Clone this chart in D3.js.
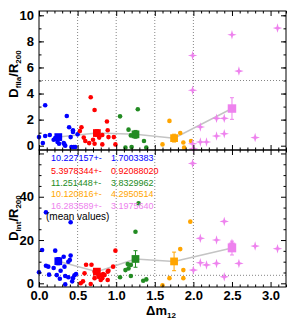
<!DOCTYPE html>
<meta charset="utf-8">
<style>
body { margin: 0; background: #fff; }
svg text { font-family: "Liberation Sans", Arial, sans-serif; }
.grid { stroke: #666; stroke-width: 0.8; stroke-dasharray: 1,2; fill: none; }
.mean-line { stroke: #c4c4c4; stroke-width: 1.5; fill: none; }
.frame { fill: none; stroke: #000; stroke-width: 1; }
</style>
<body>
<script src="https://cdn.jsdelivr.net/npm/d3@7"></script>
<script>

// groups by delta m12 bin
var colors = ["#0000ff", "#ff0000", "#228b22", "#ffa500", "#ee82ee"];

// top panel: D_fila / R200
var blueTop = [[0.00,0.66],[0.05,0.20],[0.08,3.10],[0.08,0.74],[0.14,0.82],[0.19,0.46],[0.21,0.58],[0.24,0.28],[0.26,0.15],[0.32,0.20],[0.33,0.10],[0.34,0.00],[0.36,2.28],[0.39,1.41],[0.41,0.66],[0.44,1.18],[0.44,1.05],[0.42,-0.10],[0.45,-0.10],[0.47,-0.10],[0.50,0.87]];
var redTop = [[0.53,1.12],[0.55,1.41],[0.58,0.62],[0.60,0.36],[0.65,0.20],[0.67,3.72],[0.70,0.46],[0.72,2.74],[0.72,0.15],[0.78,0.62],[0.82,0.10],[0.82,0.82],[0.88,1.85],[0.89,1.18],[0.90,0.66],[0.97,0.66],[0.99,0.10]];
var greenTop = [[1.05,2.25],[1.28,2.79],[1.16,1.23],[1.19,0.79],[1.36,0.36],[1.12,-0.15],[1.20,-0.10],[1.39,-0.15]];
var orangeTop = [[1.69,1.90],[1.60,0.10],[1.83,0.97],[1.87,0.25],[1.88,-0.15],[1.97,0.36]];
var violetTop = [[3.09,9.02],[2.50,8.51],[1.99,6.92],[2.59,5.72],[1.99,4.25],[2.30,2.10],[2.40,2.10],[2.09,1.43],[2.40,0.92],[2.30,0.74],[2.80,0.62],[2.09,0.28],[2.17,0.28],[1.99,0.15],[2.00,-0.23]];

// bottom panel: D_Int / R200
var blueBot = [[0.09,32.8],[0.41,28.2],[0.04,15.4],[0.09,8.1],[0.00,5.1],[0.13,4.0],[0.21,15.1],[0.19,7.1],[0.23,3.8],[0.32,12.3],[0.33,7.7],[0.34,3.4],[0.27,2.1],[0.40,10.8],[0.41,12.8],[0.38,10.0],[0.38,2.8],[0.34,-0.5],[0.44,2.4],[0.46,3.7],[0.48,4.3],[0.28,5.8],[0.12,7.7],[0.43,0.9]];
var redBot = [[0.99,15.1],[0.96,7.7],[0.90,5.8],[0.79,3.7],[0.61,8.6],[0.68,8.6],[0.54,0.0],[0.57,0.9],[0.67,-0.3],[0.72,2.4],[0.82,2.4],[0.83,4.3],[0.59,4.6],[0.72,5.4],[0.89,5.4],[0.85,3.8],[0.89,1.5],[0.80,1.5],[0.77,3.0]];
var greenBot = [[1.29,37.0],[1.25,23.8],[1.19,8.5],[1.16,6.9],[1.12,6.1],[1.15,8.9],[1.05,2.8],[1.19,3.4],[1.35,1.2],[1.39,1.8]];
var orangeBot = [[1.96,28.5],[1.83,15.8],[1.87,6.1],[1.69,2.4],[1.87,2.4],[1.60,-0.9]];
var violetBot = [[1.99,55.4],[2.40,28.6],[2.09,20.8],[2.30,20.0],[2.50,18.5],[2.80,17.2],[3.09,16.0],[2.09,9.5],[2.17,8.5],[2.30,9.2],[2.59,9.2],[2.00,6.1],[2.40,3.0]];

// mean values per bin
var meanX = [0.25, 0.75, 1.25, 1.75, 2.5];
var meanTop = [0.66, 0.97, 0.87, 0.58, 2.85];
var errTop = [0.2, 0.25, 0.3, 0.3, 0.83];
var meanBot = [10.227157, 5.3978344, 11.251448, 10.120816, 16.283589];
var errBot = [1.7003383, 0.92088020, 3.8329962, 4.2950514, 3.1975640];

var legendVals = ["10.227157+-", "5.3978344+-", "11.251448+-", "10.120816+-", "16.283589+-"];
var legendErrs = ["1.7003383", "0.92088020", "3.8329962", "4.2950514", "3.1975640"];

var xTicks = [0, 0.5, 1.0, 1.5, 2.0, 2.5, 3.0];
var topTicks = [0, 2, 4, 6, 8, 10];
var botTicks = [0, 20, 40];

var width = 299, height = 322;
var L = 39, R = 286, T1 = 11, B1 = 150, T2 = 150, B2 = 287;

var svg = d3.select("body").append("svg")
    .attr("width", width)
    .attr("height", height);

var x = d3.scaleLinear().domain([0, 3.2]).range([L, R]);
var yTop = d3.scaleLinear().domain([-0.33, 10.33]).range([B1, T1]);
var yBot = d3.scaleLinear().domain([-1.7, 61.6]).range([B2, T2]);

var star4 = {
  draw: function(ctx, size) {
    var ro = Math.sqrt(size) / 2, ri = ro * 0.32;
    for (var i = 0; i < 8; i++) {
      var a = i * Math.PI / 4 - Math.PI / 2, r = i % 2 ? ri : ro;
      if (i == 0) ctx.moveTo(r * Math.cos(a), r * Math.sin(a));
      else ctx.lineTo(r * Math.cos(a), r * Math.sin(a));
    }
    ctx.closePath();
  }
};

function panel(y, top, bottom, pts, means, errs, hLine) {
  var g = svg.append("g");

  // dotted guides
  g.selectAll(".vgrid").data([0.5, 1.0, 1.5, 2.0]).enter().append("line")
    .attr("class", "grid")
    .attr("x1", d => x(d)).attr("x2", d => x(d))
    .attr("y1", top).attr("y2", bottom);
  g.append("line").attr("class", "grid")
    .attr("x1", L).attr("x2", R)
    .attr("y1", y(hLine)).attr("y2", y(hLine));

  // line through means
  g.append("path").attr("class", "mean-line")
    .attr("d", d3.line().x(d => x(d[0])).y(d => y(d[1]))(meanX.map((m, i) => [m, means[i]])));

  pts.forEach(function(set, k) {
    if (k < 4) {
      g.selectAll(null).data(set).enter().append("circle")
        .attr("cx", d => x(d[0])).attr("cy", d => y(d[1]))
        .attr("r", 2.3).attr("fill", colors[k]);
    } else {
      g.selectAll(null).data(set).enter().append("path")
        .attr("d", d3.symbol().type(star4).size(90))
        .attr("transform", d => "translate(" + x(d[0]) + "," + y(d[1]) + ")")
        .attr("fill", colors[k]);
    }
  });

  meanX.forEach(function(m, k) {
    var cx = x(m), y0 = y(means[k] - errs[k]), y1 = y(means[k] + errs[k]);
    g.append("path")
      .attr("d", "M" + cx + "," + y0 + "V" + y1 + "M" + (cx - 2) + "," + y0 + "H" + (cx + 2) + "M" + (cx - 2) + "," + y1 + "H" + (cx + 2))
      .attr("stroke", colors[k]).attr("stroke-width", 1).attr("fill", "none");
    g.append("path")
      .attr("d", d3.symbol().type(d3.symbolSquare).size(k == 4 ? 72 : 60))
      .attr("transform", "translate(" + cx + "," + y(means[k]) + ")")
      .attr("fill", colors[k]);
  });

  g.append("rect").attr("class", "frame")
    .attr("x", L).attr("y", top).attr("width", R - L).attr("height", bottom - top);
  return g;
}

function ticks(g, axis) {
  g.call(axis);
  g.select(".domain").remove();
  g.selectAll("line").attr("stroke", "#000");
  g.selectAll("text").attr("font-family", "Liberation Sans, Arial, sans-serif")
    .attr("font-size", 13).attr("font-weight", "bold").attr("fill", "#000");
}

var xMinor = d3.range(0, 3.21, 0.1).filter(v => Math.abs(v * 2 - Math.round(v * 2)) > 0.01);

panel(yTop, T1, B1, [blueTop, redTop, greenTop, orangeTop, violetTop], meanTop, errTop, 5);
panel(yBot, T2, B2, [blueBot, redBot, greenBot, orangeBot, violetBot], meanBot, errBot, 3.7);

// top panel axes
ticks(svg.append("g").attr("transform", "translate(" + L + ",0)"),
  d3.axisLeft(yTop).tickValues(topTicks).tickSize(-5).tickPadding(5));
ticks(svg.append("g").attr("transform", "translate(" + L + ",0)"),
  d3.axisLeft(yTop).tickValues(d3.range(1, 10.1, 1)).tickSize(-2.5).tickFormat(""));
ticks(svg.append("g").attr("transform", "translate(" + R + ",0)"),
  d3.axisRight(yTop).tickValues(topTicks).tickSize(-5).tickFormat(""));
ticks(svg.append("g").attr("transform", "translate(" + R + ",0)"),
  d3.axisRight(yTop).tickValues(d3.range(1, 10.1, 1)).tickSize(-2.5).tickFormat(""));
ticks(svg.append("g").attr("transform", "translate(0," + T1 + ")"),
  d3.axisTop(x).tickValues(xTicks).tickSize(-5).tickFormat(""));
ticks(svg.append("g").attr("transform", "translate(0," + T1 + ")"),
  d3.axisTop(x).tickValues(xMinor).tickSize(-2.5).tickFormat(""));
ticks(svg.append("g").attr("transform", "translate(0," + B1 + ")"),
  d3.axisBottom(x).tickValues(xTicks).tickSize(-5).tickFormat(""));
ticks(svg.append("g").attr("transform", "translate(0," + B1 + ")"),
  d3.axisBottom(x).tickValues(xMinor).tickSize(-2.5).tickFormat(""));

// bottom panel axes
ticks(svg.append("g").attr("transform", "translate(" + L + ",0)"),
  d3.axisLeft(yBot).tickValues(botTicks).tickSize(-5).tickPadding(5));
ticks(svg.append("g").attr("transform", "translate(" + L + ",0)"),
  d3.axisLeft(yBot).tickValues([60]).tickSize(-5).tickFormat(""));
ticks(svg.append("g").attr("transform", "translate(" + L + ",0)"),
  d3.axisLeft(yBot).tickValues(d3.range(5, 61, 5).filter(v => v % 20)).tickSize(-2.5).tickFormat(""));
ticks(svg.append("g").attr("transform", "translate(" + R + ",0)"),
  d3.axisRight(yBot).tickValues([0, 20, 40, 60]).tickSize(-5).tickFormat(""));
ticks(svg.append("g").attr("transform", "translate(" + R + ",0)"),
  d3.axisRight(yBot).tickValues(d3.range(5, 61, 5).filter(v => v % 20)).tickSize(-2.5).tickFormat(""));
ticks(svg.append("g").attr("transform", "translate(0," + T2 + ")"),
  d3.axisTop(x).tickValues(xTicks).tickSize(-5).tickFormat(""));
ticks(svg.append("g").attr("transform", "translate(0," + T2 + ")"),
  d3.axisTop(x).tickValues(xMinor).tickSize(-2.5).tickFormat(""));
ticks(svg.append("g").attr("transform", "translate(0," + B2 + ")"),
  d3.axisBottom(x).tickValues(xTicks).tickSize(-5).tickPadding(4).tickFormat(d3.format(".1f")));
ticks(svg.append("g").attr("transform", "translate(0," + B2 + ")"),
  d3.axisBottom(x).tickValues(xMinor).tickSize(-2.5).tickFormat(""));

// legend of mean values
var legY = [161, 174, 185.5, 197, 208.5];
legendVals.forEach(function(v, i) {
  var t = svg.append("text").attr("y", legY[i]).attr("font-size", 9).attr("fill", colors[i]);
  t.append("tspan").attr("x", 51).text(v);
  t.append("tspan").attr("x", 111).text(legendErrs[i]);
});
svg.append("text").attr("x", 46).attr("y", 219.5)
  .attr("font-family", "Liberation Serif, serif").attr("font-size", 10)
  .text("(mean values)");

// axis titles
function ytitle(cy, sub) {
  var t = svg.append("text")
    .attr("transform", "translate(18," + cy + ") rotate(-90)")
    .attr("text-anchor", "middle").attr("font-size", 13).attr("font-weight", "bold");
  t.append("tspan").text("D");
  t.append("tspan").attr("font-size", 8).attr("dy", 3).text(sub);
  t.append("tspan").attr("dy", -3).text("/R");
  t.append("tspan").attr("font-size", 8).attr("dy", 3).text("200");
}
ytitle(74, "fila");
ytitle(218, "Int");

var xt = svg.append("text").attr("x", 161).attr("y", 315)
  .attr("text-anchor", "middle").attr("font-size", 13).attr("font-weight", "bold");
xt.append("tspan").text("\u0394m");
xt.append("tspan").attr("font-size", 8).attr("dy", 3).text("12");

</script>
